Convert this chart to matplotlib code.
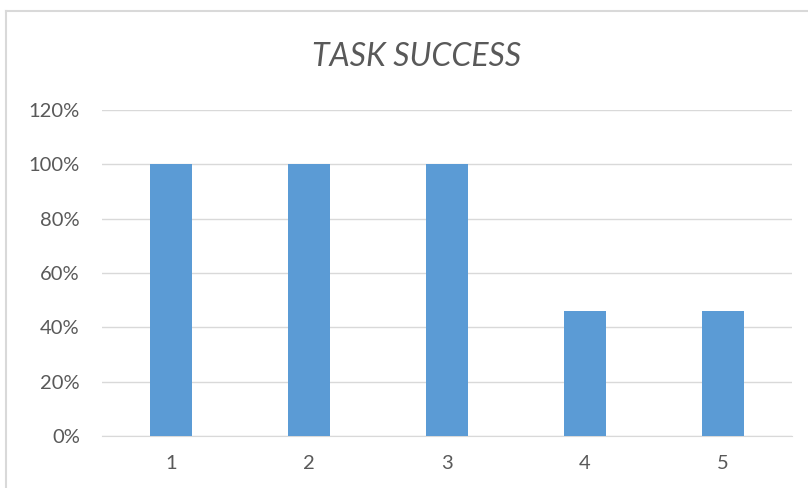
import matplotlib
matplotlib.use("Agg")
import matplotlib.pyplot as plt
from matplotlib.lines import Line2D
from matplotlib.ticker import PercentFormatter

categories = ["1", "2", "3", "4", "5"]
success = [100, 100, 100, 46, 46]
yticks = [0, 20, 40, 60, 80, 100, 120]

W, H = 808, 488
fig = plt.figure(figsize=(W / 100, H / 100), dpi=100)
fig.patch.set_facecolor("white")

ax = fig.add_axes([102 / W, 52 / H, 690 / W, 326 / H])
x = list(range(1, len(categories) + 1))
ax.bar(x, success, width=0.31, color="#5b9bd5", zorder=3)

ax.set_xlim(0.5, len(categories) + 0.5)
ax.set_ylim(0, 120)
ax.set_yticks(yticks)
ax.yaxis.set_major_formatter(PercentFormatter(decimals=0))
ax.set_xticks(x)
ax.set_xticklabels(categories)
ax.grid(axis="y", color="#d9d9d9", linewidth=1, zorder=0)
for s in ["top", "right", "left"]:
    ax.spines[s].set_visible(False)
ax.spines["bottom"].set_color("#d9d9d9")
ax.tick_params(length=0, labelsize=14.5, colors="#595959", labelfontfamily="Lato")
ax.tick_params(axis="y", pad=16)
ax.tick_params(axis="x", pad=14)

fig.text(417 / W, 1 - 57 / H, "TASK SUCCESS", ha="center", va="center",
         fontsize=23, fontstyle="italic", color="#595959", family="Lato")

# chart border (partially visible)
fig.add_artist(Line2D([6 / W, 6 / W], [0, 1 - 11 / H], color="#d9d9d9", linewidth=1.5))
fig.add_artist(Line2D([6 / W, 1], [1 - 11 / H, 1 - 11 / H], color="#d9d9d9", linewidth=1.5))

fig.savefig("out.png", dpi=100)
